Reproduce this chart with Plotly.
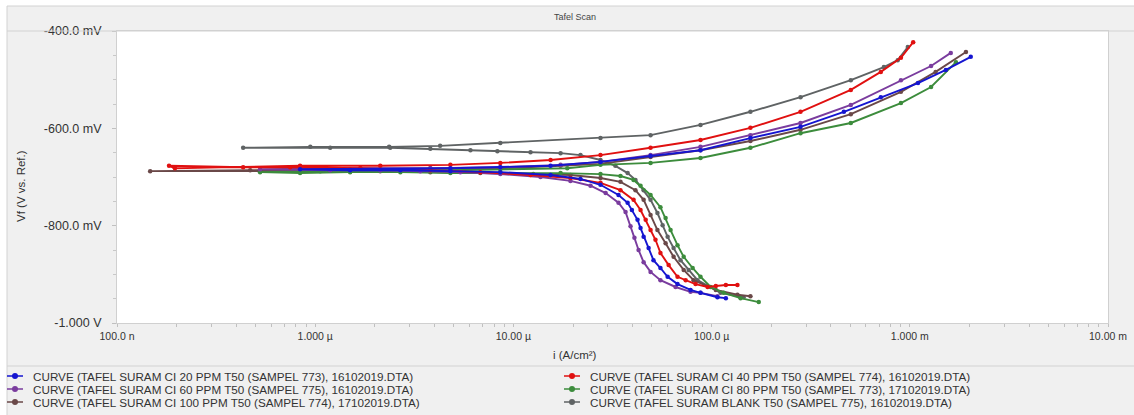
import plotly.graph_objects as go

# ---------------- data (current in A/cm^2, potential in V) ----------------
names = [
    "CURVE (TAFEL SURAM CI 20 PPM T50 (SAMPEL 773), 16102019.DTA)",
    "CURVE (TAFEL SURAM CI 40 PPM T50 (SAMPEL 774), 16102019.DTA)",
    "CURVE (TAFEL SURAM CI 60 PPM T50 (SAMPEL 775), 16102019.DTA)",
    "CURVE (TAFEL SURAM CI 80 PPM T50 (SAMPEL 773), 17102019.DTA)",
    "CURVE (TAFEL SURAM CI 100 PPM T50 (SAMPEL 774), 17102019.DTA)",
    "CURVE (TAFEL SURAM BLANK T50 (SAMPEL 775), 16102019.DTA)",
]
colors = ["#1515d0", "#e01010", "#7a3c9e", "#3c8c3c", "#6a4848", "#5f6364"]

i_20 = [1.18e-4, 1.07e-4, 8.79e-5, 7.83e-5, 6.73e-5, 6.00e-5, 5.52e-5, 5.09e-5, 4.81e-5, 4.54e-5,
        4.38e-5, 4.23e-5, 3.96e-5, 3.77e-5, 3.39e-5, 2.75e-5, 2.18e-5, 1.54e-5, 8.59e-6, 4.81e-6,
        2.69e-6, 1.50e-6, 8.39e-7,
        4.81e-6, 8.59e-6, 1.54e-5, 2.75e-5, 4.92e-5, 8.79e-5, 1.57e-4, 2.81e-4, 4.65e-4, 7.14e-4,
        1.10e-3, 1.52e-3, 2.03e-3]
e_20 = [-0.949, -0.947, -0.938, -0.932, -0.920, -0.905, -0.887, -0.871, -0.846, -0.823,
        -0.805, -0.788, -0.768, -0.753, -0.737, -0.716, -0.704, -0.696, -0.690, -0.688,
        -0.686, -0.686, -0.684,
        -0.682, -0.680, -0.677, -0.669, -0.657, -0.645, -0.620, -0.597, -0.566, -0.536,
        -0.507, -0.480, -0.453]

i_40 = [1.35e-4, 1.18e-4, 1.05e-4, 9.55e-5, 8.30e-5, 7.40e-5, 6.73e-5, 6.07e-5, 5.52e-5, 5.21e-5,
        4.92e-5, 4.65e-5, 4.38e-5, 4.04e-5, 3.47e-5, 2.75e-5, 1.94e-5, 1.22e-5, 6.81e-6, 3.81e-6,
        1.69e-6, 7.48e-7, 4.33e-7, 1.83e-7, 1.96e-7,
        8.39e-7, 2.13e-6, 4.81e-6, 8.59e-6, 1.54e-5, 2.75e-5, 4.92e-5, 8.79e-5, 1.57e-4, 2.81e-4,
        5.04e-4, 7.14e-4, 9.02e-4, 1.04e-3]
e_40 = [-0.922, -0.922, -0.924, -0.926, -0.920, -0.912, -0.905, -0.881, -0.856, -0.829,
        -0.809, -0.788, -0.768, -0.747, -0.727, -0.712, -0.702, -0.696, -0.690, -0.686,
        -0.682, -0.680, -0.680, -0.677, -0.682,
        -0.677, -0.677, -0.675, -0.671, -0.665, -0.655, -0.640, -0.624, -0.599, -0.566,
        -0.521, -0.484, -0.455, -0.423]

i_60 = [1.07e-4, 8.79e-5, 7.83e-5, 6.58e-5, 5.52e-5, 4.92e-5, 4.54e-5, 4.28e-5, 4.08e-5, 3.90e-5,
        3.68e-5, 3.39e-5, 2.92e-5, 2.45e-5, 1.94e-5, 1.37e-5, 8.59e-6, 5.40e-6, 3.39e-6, 2.13e-6,
        1.19e-6, 5.27e-7,
        1.69e-6, 3.81e-6, 8.59e-6, 1.73e-5, 2.75e-5, 4.92e-5, 8.79e-5, 1.57e-4, 2.81e-4, 5.04e-4,
        9.02e-4, 1.28e-3, 1.61e-3]
e_60 = [-0.945, -0.938, -0.936, -0.926, -0.912, -0.895, -0.875, -0.850, -0.825, -0.801,
        -0.772, -0.753, -0.733, -0.718, -0.708, -0.700, -0.694, -0.690, -0.688, -0.686,
        -0.686, -0.684,
        -0.682, -0.682, -0.680, -0.675, -0.669, -0.655, -0.638, -0.614, -0.589, -0.552,
        -0.501, -0.472, -0.445]

i_80 = [1.73e-4, 1.40e-4, 1.15e-4, 9.89e-5, 8.79e-5, 8.02e-5, 7.23e-5, 6.73e-5, 6.21e-5, 5.86e-5,
        5.52e-5, 4.92e-5, 4.38e-5, 4.04e-5, 3.47e-5, 2.75e-5, 1.73e-5, 8.59e-6, 4.81e-6, 2.69e-6,
        1.50e-6, 8.39e-7, 5.27e-7,
        1.06e-6, 2.69e-6, 4.81e-6, 8.59e-6, 1.87e-5, 2.75e-5, 4.92e-5, 8.79e-5, 1.57e-4, 2.81e-4,
        5.04e-4, 9.02e-4, 1.28e-3, 1.71e-3]
e_80 = [-0.957, -0.949, -0.938, -0.926, -0.905, -0.887, -0.864, -0.840, -0.809, -0.784,
        -0.762, -0.737, -0.718, -0.706, -0.698, -0.694, -0.692, -0.692, -0.692, -0.690,
        -0.690, -0.692, -0.690,
        -0.688, -0.688, -0.686, -0.684, -0.682, -0.675, -0.671, -0.661, -0.640, -0.610,
        -0.589, -0.548, -0.515, -0.464]

i_100 = [1.57e-4, 1.35e-4, 1.05e-4, 8.11e-5, 7.23e-5, 6.43e-5, 5.86e-5, 5.33e-5, 4.92e-5, 4.54e-5,
         4.13e-5, 3.47e-5, 2.75e-5, 1.94e-5, 1.26e-5, 6.81e-6, 3.81e-6, 2.13e-6, 8.39e-7, 1.47e-7,
         4.70e-7,
         1.50e-6, 3.81e-6, 8.59e-6, 1.73e-5, 2.75e-5, 4.92e-5, 8.79e-5, 1.57e-4, 2.81e-4, 5.04e-4,
         9.02e-4, 1.35e-3, 1.92e-3]
e_100 = [-0.945, -0.942, -0.932, -0.912, -0.891, -0.864, -0.836, -0.809, -0.778, -0.747,
         -0.727, -0.710, -0.702, -0.696, -0.694, -0.692, -0.690, -0.688, -0.688, -0.688,
         -0.686,
         -0.684, -0.682, -0.682, -0.677, -0.673, -0.659, -0.645, -0.626, -0.603, -0.571,
         -0.525, -0.484, -0.443]

i_blank = [1.45e-4, 1.11e-4, 8.49e-5, 7.66e-5, 6.97e-5, 6.43e-5, 6.00e-5, 5.66e-5, 5.33e-5, 4.92e-5,
           4.54e-5, 4.13e-5, 3.77e-5, 3.27e-5, 2.75e-5, 2.18e-5, 1.73e-5, 1.22e-5, 8.30e-6, 6.07e-6,
           3.81e-6, 2.39e-6, 1.19e-6, 4.33e-7,
           9.45e-7, 2.36e-6, 4.27e-6, 8.59e-6, 2.75e-5, 4.92e-5, 8.79e-5, 1.57e-4, 2.81e-4, 5.04e-4,
           7.40e-4, 8.69e-4, 9.77e-4]
e_blank = [-0.947, -0.938, -0.912, -0.891, -0.871, -0.846, -0.823, -0.799, -0.774, -0.747,
           -0.727, -0.706, -0.692, -0.677, -0.665, -0.655, -0.651, -0.649, -0.647, -0.645,
           -0.642, -0.640, -0.640, -0.640,
           -0.638, -0.638, -0.636, -0.630, -0.620, -0.614, -0.593, -0.566, -0.536, -0.501,
           -0.474, -0.460, -0.433]

series_i = [i_20, i_40, i_60, i_80, i_100, i_blank]
series_e = [e_20, e_40, e_60, e_80, e_100, e_blank]

x_tick_vals = [1e-7, 1e-6, 1e-5, 1e-4, 1e-3, 1e-2]
x_tick_text = ["100.0 n", "1.000 \u00b5", "10.00 \u00b5", "100.0 \u00b5", "1.000 m", "10.00 m"]
y_tick_vals = [-1.0, -0.8, -0.6, -0.4]
y_tick_text = ["-1.000 V", "-800.0 mV", "-600.0 mV", "-400.0 mV"]

# ---------------- figure ----------------
W, H = 1134, 415
L, R, T, B = 117, 26, 31, 92
pw, ph = W - L - R, H - T - B

def px(x):
    return (x - L) / pw

def py(y):
    return (H - B - y) / ph

fig = go.Figure()
draw_order = [5, 4, 3, 2, 1, 0]
for k in draw_order:
    fig.add_trace(go.Scatter(
        x=series_i[k], y=series_e[k], mode="lines+markers", name=names[k],
        line=dict(color=colors[k], width=1.9),
        marker=dict(color=colors[k], size=4.5),
        showlegend=False,
    ))

xt_vals, xt_text = [], []
for d, lab in zip(x_tick_vals, x_tick_text):
    xt_vals.append(d)
    xt_text.append(lab)
    if d < 1e-2:
        for m in range(2, 10):
            xt_vals.append(d * m)
            xt_text.append("")

font_family = "Liberation Sans, Arial, sans-serif"
shapes = []
shapes.append(dict(type="rect", xref="paper", yref="paper", x0=px(0), x1=px(7), y0=py(H), y1=py(0),
                   fillcolor="white", line=dict(width=0), layer="below"))
shapes.append(dict(type="rect", xref="paper", yref="paper", x0=px(0), x1=px(W), y0=py(6), y1=py(0),
                   fillcolor="white", line=dict(width=0), layer="below"))
line_col = "#d2d2d2"
shapes.append(dict(type="line", xref="paper", yref="paper", x0=px(7), x1=px(W), y0=py(6), y1=py(6),
                   line=dict(color=line_col, width=1)))
shapes.append(dict(type="line", xref="paper", yref="paper", x0=px(7), x1=px(7), y0=py(6), y1=py(H),
                   line=dict(color=line_col, width=1)))
shapes.append(dict(type="line", xref="paper", yref="paper", x0=px(7), x1=px(W), y0=py(31), y1=py(31),
                   line=dict(color=line_col, width=1)))
shapes.append(dict(type="line", xref="paper", yref="paper", x0=px(7), x1=px(W), y0=py(366), y1=py(366),
                   line=dict(color=line_col, width=1)))

annotations = [
    dict(text="Tafel Scan", xref="paper", yref="paper", x=px(575), y=py(17), showarrow=False,
         font=dict(size=9, color="#444", family=font_family), xanchor="center", yanchor="middle"),
    dict(text="i (A/cm\u00b2)", xref="paper", yref="paper", x=px(575), y=py(355), showarrow=False,
         font=dict(size=11.5, color="#333", family=font_family), xanchor="center", yanchor="middle"),
    dict(text="Vf (V vs. Ref.)", xref="paper", yref="paper", x=px(21), y=py(186), showarrow=False,
         textangle=-90, font=dict(size=11.5, color="#333", family=font_family),
         xanchor="center", yanchor="middle"),
]

leg_cols = [15, 572]
leg_rows = [376, 389, 402]
for k in range(6):
    col = k % 2
    row = k // 2
    cx, cy = leg_cols[col], leg_rows[row]
    shapes.append(dict(type="line", xref="paper", yref="paper", x0=px(cx - 8), x1=px(cx + 8),
                       y0=py(cy), y1=py(cy), line=dict(color=colors[k], width=1.5)))
    shapes.append(dict(type="circle", xref="paper", yref="paper", xsizemode="pixel", ysizemode="pixel",
                       xanchor=px(cx), yanchor=py(cy), x0=-3, x1=3, y0=-3, y1=3,
                       fillcolor=colors[k], line=dict(color=colors[k], width=0)))
    annotations.append(dict(text=names[k], xref="paper", yref="paper", x=px(cx + 16), y=py(cy),
                            showarrow=False, xanchor="left", yanchor="middle",
                            font=dict(size=11.7, color="#333", family=font_family)))

fig.update_layout(
    width=W, height=H,
    margin=dict(l=L, r=R, t=T, b=B, autoexpand=False),
    paper_bgcolor="#f0f0f0", plot_bgcolor="white",
    font=dict(family=font_family, size=10.5, color="#333"),
    shapes=shapes, annotations=annotations,
    showlegend=False,
)
fig.update_xaxes(
    type="log", range=[-7, -2], tickvals=xt_vals, ticktext=xt_text,
    ticks="outside", ticklen=3, tickcolor="#c0c0c0", showgrid=False, zeroline=False,
    showline=True, mirror=True, linecolor="#d0d0d0", linewidth=1,
    tickfont=dict(size=10.5, color="#333"),
)
fig.update_yaxes(
    range=[-1.0, -0.4], tickvals=y_tick_vals, ticktext=y_tick_text,
    ticks="outside", ticklen=4, tickcolor="#c0c0c0", showgrid=False, zeroline=False,
    showline=True, mirror=True, linecolor="#d0d0d0", linewidth=1,
    minor=dict(ticks="outside", ticklen=3, tickcolor="#c8c8c8", dtick=0.05, showgrid=False),
    ticklabelstandoff=8,
    tickfont=dict(size=12.5, color="#333"),
)

fig.write_html("out.html", config={"displayModeBar": False},
               post_script="document.body.style.margin='0';")
